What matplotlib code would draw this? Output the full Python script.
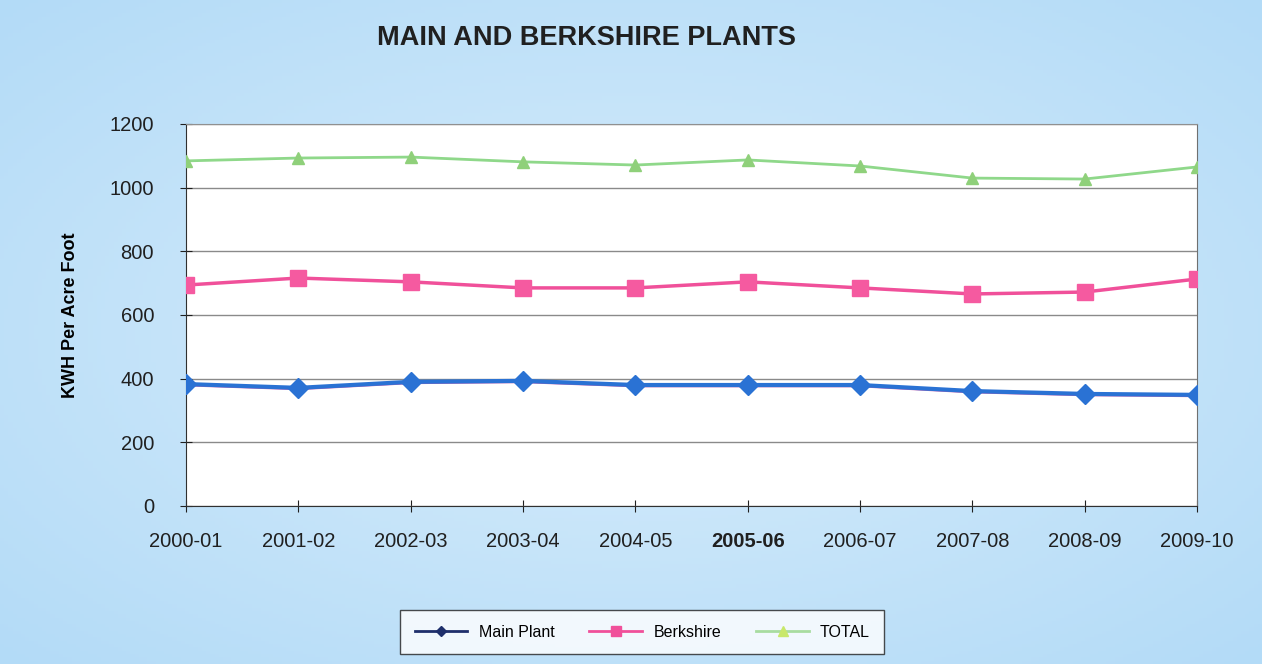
import numpy as np
import matplotlib
matplotlib.use("Agg")
import matplotlib.pyplot as plt
from matplotlib.lines import Line2D

years = ['2000-01', '2001-02', '2002-03', '2003-04', '2004-05',
         '2005-06', '2006-07', '2007-08', '2008-09', '2009-10']
main_plant = [383, 371, 390, 393, 380, 380, 380, 361, 352, 349]
berkshire = [694, 716, 704, 685, 685, 704, 685, 666, 672, 713]
total = [1084, 1093, 1096, 1081, 1071, 1087, 1068, 1030, 1027, 1065]

plt.rcParams['font.family'] = ['Liberation Sans', 'DejaVu Sans']

fig = plt.figure(figsize=(12.62, 6.64), dpi=100)
fig.patch.set_facecolor('#bfe0f8')

# soft light-blue background, a bit paler in the middle
bg = fig.add_axes([0, 0, 1, 1], zorder=-10)
yy, xx = np.mgrid[-1:1:200j, -1:1:300j]
r = np.sqrt(xx ** 2 + yy ** 2)
bg.imshow(r, cmap=matplotlib.colors.LinearSegmentedColormap.from_list(
    'bgc', ['#d8edfc', '#b3dbf7']), aspect='auto', extent=[0, 1, 0, 1])
bg.axis('off')

ax = fig.add_axes([0.1474, 0.238, 0.8011, 0.5753])
ax.set_facecolor('white')
x = np.arange(len(years))

ax.plot(x, total, color='#8fd88a', lw=2, marker='^', ms=9,
        mfc='#8fd07a', mec='#8fd07a', zorder=3)
ax.plot(x, berkshire, color='#f0509a', lw=2.5, marker='s', ms=11,
        mfc='#f55aa0', mec='#f55aa0', zorder=3)
ax.plot(x, np.array(main_plant) - 3, color='#c060b0', lw=2, zorder=3)
ax.plot(x, main_plant, color='#2a72d4', lw=3, marker='D', ms=10,
        mfc='#2a72d4', mec='#2a72d4', zorder=4)

ax.set_xlim(0, 9)
ax.set_ylim(0, 1200)
ax.set_yticks(range(0, 1201, 200))
ax.set_xticks(x)
ax.set_xticklabels(years)
ax.grid(axis='y', color='#8a8a8a', lw=1)
ax.set_axisbelow(True)
for s in ['left', 'bottom', 'right', 'top']:
    ax.spines[s].set_color('#303030')
ax.spines['top'].set_color('#909090')
ax.spines['right'].set_color('#707070')
ax.tick_params(direction='inout', length=8, labelsize=14.5,
               colors='#202020')
ax.tick_params(axis='x', pad=15)
ax.tick_params(axis='y', pad=19)
for lab in ax.get_xticklabels():
    if lab.get_text() == '2005-06':
        lab.set_fontweight('bold')

ax.set_ylabel('KWH Per Acre Foot', fontsize=13, fontweight='bold')
ax.yaxis.set_label_coords(-0.106, 0.5)

fig.text(0.465, 0.943, 'MAIN AND BERKSHIRE PLANTS', ha='center',
         va='center', fontsize=19.5, fontweight='bold', color='#202020')

handles = [Line2D([], [], color='#1e2f6b', lw=2, marker='D', ms=5),
           Line2D([], [], color='#f0509a', lw=2, marker='s', ms=7),
           Line2D([], [], color='#a8dca0', lw=2, marker='^', ms=7,
                  mfc='#c8e86a', mec='#c8e86a')]
leg = fig.legend(handles, ['Main Plant', 'Berkshire', 'TOTAL'],
                 loc='center', bbox_to_anchor=(0.509, 0.048), ncol=3,
                 fontsize=11.5, frameon=True, fancybox=False,
                 handlelength=3.3, handletextpad=0.7, columnspacing=2.2,
                 borderpad=0.9)
leg.get_frame().set_edgecolor('#202020')
leg.get_frame().set_facecolor('white')
leg.get_frame().set_linewidth(1)

plt.savefig('out.png', dpi=100, facecolor=fig.get_facecolor())
